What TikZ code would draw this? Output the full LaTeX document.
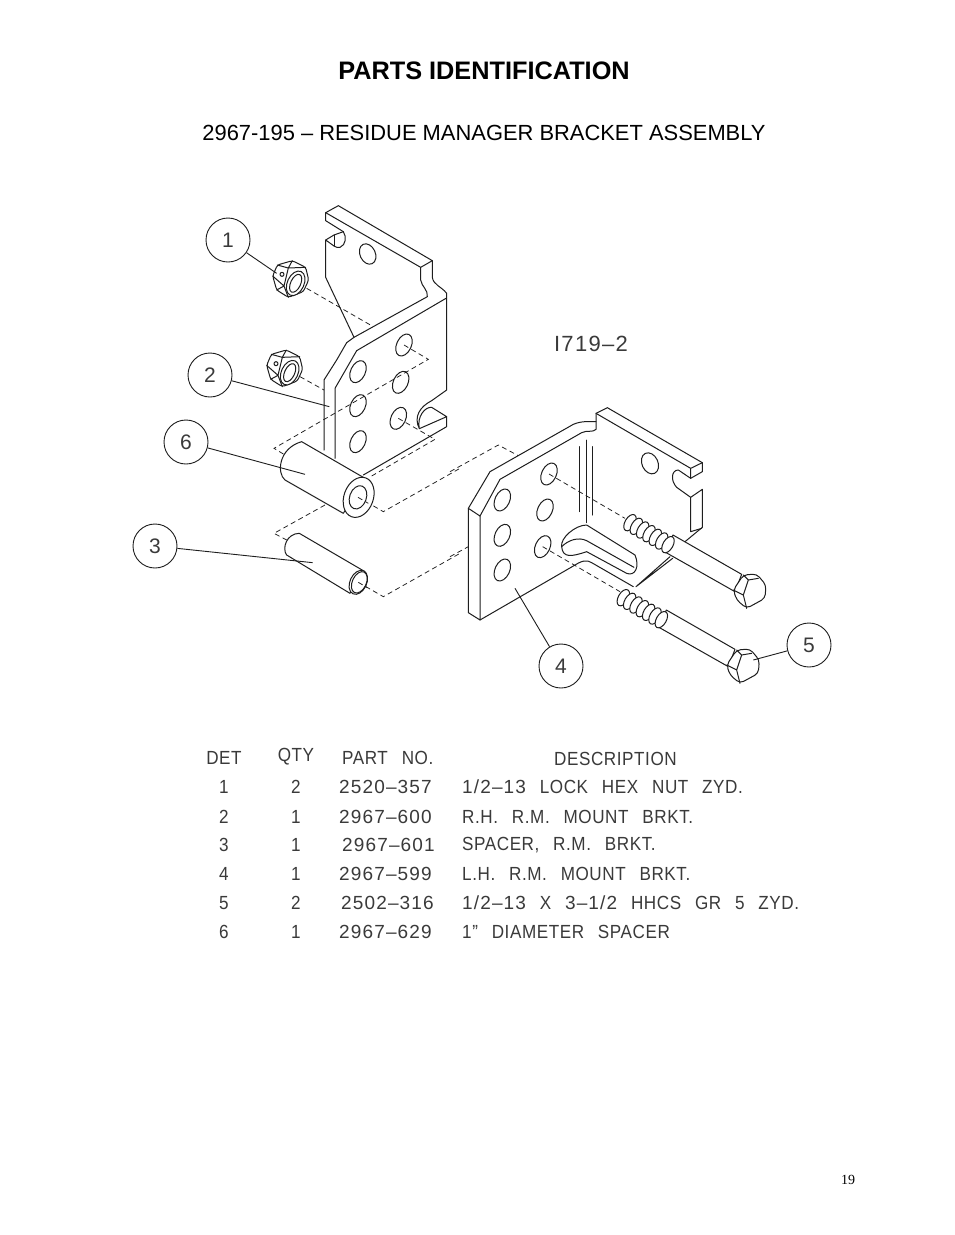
\documentclass[tikz,border=0pt]{standalone}
\usepackage{fontspec}
\setmainfont{Liberation Sans}
\newfontfamily\cadfont[FakeStretch=0.9,LetterSpace=3,WordSpace=2.6]{Liberation Sans}
\newfontfamily\numfont[LetterSpace=6,WordSpace=2.6]{Liberation Sans}
\newfontfamily\pagefont{Liberation Serif}
\definecolor{ink}{HTML}{1E1E1E}
\definecolor{cad}{HTML}{3A3A3A}
\tikzset{
  part/.style={draw=ink,line width=1pt,line join=round,line cap=round},
  hidden/.style={draw=ink,line width=0.75pt,dash pattern=on 5pt off 3.5pt},
  leader/.style={draw=ink,line width=0.9pt},
  balloon/.style={circle,draw=ink,line width=0.9pt,minimum size=44pt,inner sep=0pt,text=cad,font=\fontsize{21}{25}\selectfont},
  tbl/.style={anchor=west,inner sep=0pt,text=cad,font=\cadfont\fontsize{19}{23}\selectfont},
  tblnum/.style={anchor=west,inner sep=0pt,text=cad,font=\numfont\fontsize{19}{23}\selectfont},
  tblc/.style={anchor=center,inner sep=0pt,text=cad,font=\cadfont\fontsize{19}{23}\selectfont},
}
\newcommand{\hexnut}{%
  \draw[part,fill=white,rounded corners=2.5pt] (428,258)--(442,225)--(487,212)--(527,232)--(536,270)--(520,305)--(475,322)--(440,300)--cycle;
  \draw[part] (442,225)--(475,234)--(487,212) (475,234)--(527,232) (428,258)--(462,288)--(475,234) (462,288)--(440,300) (462,288)--(475,322);
  \draw[part,fill=white] (497,280) ellipse[x radius=25,y radius=39,rotate=-25];
  \draw[part] (497,280) ellipse[x radius=15,y radius=29,rotate=-25];
  \draw[part] (456,253) circle[radius=6];
}
\newcommand{\boltshape}{%
  \draw[part,fill=white] (669,435)--(875,553)--(855,605)--(645,486)--cycle;
  \foreach \i in {0,...,6}{
    \draw[part,fill=white] ({540+\i*19},{398+\i*11}) ellipse[x radius=15,y radius=27,rotate=-30];
  }
  \draw[part,fill=white,rounded corners=4pt] (850,600)--(880,555)--(920,552)--(948,585)--(945,625)--(890,655)--(860,630)--cycle;
  \draw[part] (880,555)--(895,570)--(925,565) (895,570)--(880,615)--(850,600) (880,615)--(890,655);
}
\newcommand{\holeat}[1]{\draw[part] #1 ellipse[x radius=22,y radius=35,rotate=-25];}
\begin{document}
\begin{tikzpicture}[x=1pt,y=-1pt]
\path[use as bounding box,fill=white] (0,0) rectangle (954,1235);

\node[inner sep=0pt,font=\bfseries\fontsize{25.3}{30}\selectfont] (title) at (484,71) {PARTS IDENTIFICATION};
\node[inner sep=0pt,font=\fontsize{21.9}{26}\selectfont] (subtitle) at (484,133) {2967-195 – RESIDUE MANAGER BRACKET ASSEMBLY};
\node[inner sep=0pt,font=\pagefont\fontsize{14}{17}\selectfont] (pageno) at (848,1180) {19};
\node[inner sep=0pt,text=cad,font=\numfont\fontsize{22}{26}\selectfont] (drawno) at (591,344) {I719–2};

% ---------- left side: frame of zooms 1 and 2
\begin{scope}[shift={(130,190)},scale=0.33333]
  % bracket 2
  \draw[part] (587,68)--(625,47)--(907,212)--(872,232)--cycle;
  \draw[part] (587,68)--(587,92)--(640,125) .. controls (650,140) and (648,165) .. (630,172) .. controls (622,173) and (618,172) .. (612,168)--(587,150)--(587,262)--(672,442);
  \draw[part] (587,150)--(612,135)--(640,125);
  \draw[part] (612,135)--(612,168);
  \draw[part] (907,212)--(907,262) .. controls (910,285) and (935,290) .. (950,310)--(950,600)--(905,632);
  \draw[part] (872,232)--(872,270) .. controls (875,290) and (895,300) .. (892,320)--(672,442)--(650,458)--(620,510)--(582,570)--(582,780);
  \draw[part] (948,325)--(680,482)--(615,595)--(615,805);
  \draw[part] (905,632) .. controls (870,650) and (850,680) .. (868,716)--(950,680)--(905,652) .. controls (885,650) and (860,680) .. (868,716);
  \draw[part] (950,680)--(950,710)--(700,855);
  \foreach \c in {(684,545),(812,577),(684,647),(822,465),(805,685),(684,755)}{
    \holeat{\c}
  }
  \draw[part] (713,192) ellipse[x radius=23,y radius=32,rotate=25];
  % hidden lines
  \coordinate (a1) at (895,508);
  \coordinate (a2) at (432,775);
  \draw[hidden] (822,465)--(a1)--(a2)--(465,795);
  \draw[hidden] (805,685)--(915,748)--(725,858);
  \draw[hidden] (530,295)--(730,410);
  \draw[hidden] (510,560)--(582,600);
  \draw[hidden] (686,922)--(760,965)--(990,835);
  \draw[hidden] (585,945)--(432,1030)--(470,1050);
  \draw[hidden] (685,1177)--(760,1220)--(990,1090);
  % nuts
  \hexnut
  \begin{scope}[shift={(-18,268)}]\hexnut\end{scope}
  % spacer 6
  \draw[part,fill=white] (515,755)--(705,865)--(640,970)--(465,870) .. controls (440,850) and (445,775) .. (515,755);
  \draw[part,fill=white] (686,922) ellipse[x radius=44,y radius=62,rotate=-20];
  \draw[part] (684,922) ellipse[x radius=25,y radius=36,rotate=-20];
  \draw[hidden] (684,922)--(715,940);
  % spacer 3
  \draw[part,fill=white] (508,1030)--(705,1145)--(660,1210)--(470,1095) .. controls (455,1075) and (470,1030) .. (508,1030);
  \draw[part,fill=white] (685,1177) ellipse[x radius=25,y radius=38,rotate=-25];
  \draw[part] (688,1177) ellipse[x radius=21,y radius=34,rotate=-25];
  \draw[hidden] (685,1177)--(712,1193);
  % leader ends
  \coordinate (t1) at (440,250);
  \coordinate (t2) at (598,650);
  \coordinate (t6) at (525,853);
  \coordinate (t3) at (548,1118);
\end{scope}

% ---------- right side: frame of zoom 3
\begin{scope}[shift={(450,390)},scale=0.33333]
  \draw[hidden] (0,245)--(145,165)--(205,197);
  \draw[hidden] (0,500)--(55,470);
  % bracket 4
  \draw[part] (55,355)--(55,668)--(90,690)--(90,378)--cycle;
  \draw[part] (90,690)--(370,528) .. controls (395,512) and (410,508) .. (425,518)--(550,590);
  \draw[part] (55,355)--(120,245)--(370,103) .. controls (395,92) and (420,95) .. (438,95)--(438,70)--(472,53)--(757,218)--(757,245)--(722,265);
  \draw[part] (90,378)--(150,268)--(395,128) .. controls (410,120) and (430,128) .. (438,118)--(438,95);
  \draw[part] (438,70)--(722,235)--(757,218);
  \draw[part] (722,235)--(722,265)--(685,240) .. controls (665,240) and (660,270) .. (680,292)--(722,322)--(722,425)--(755,415);
  \draw[part] (722,322)--(757,298)--(757,412)--(705,455);
  \draw[part] (660,500)--(558,590) (668,505)--(558,590);
  \draw[part] (388,170)--(388,365) (410,150)--(410,398) (427,170)--(427,375);
  \draw[part,fill=white] (410,405) .. controls (375,405) and (330,445) .. (335,470) .. controls (338,505) and (365,500) .. (410,485)--(530,550) .. controls (555,560) and (570,530) .. (555,495)--cycle;
  \draw[part] (335,470) .. controls (355,450) and (385,440) .. (410,452)--(552,532);
  \foreach \c in {(297,252),(285,360),(278,470),(157,330),(157,436),(157,540)}{
    \holeat{\c}
  }
  \draw[part] (600,220) ellipse[x radius=24,y radius=33,rotate=25];
  \draw[hidden] (297,252)--(525,385);
  \draw[hidden] (278,470)--(510,605);
  % bolts
  \boltshape
  \begin{scope}[shift={(-20,225)}]\boltshape\end{scope}
  \coordinate (t4) at (195,595);
  \coordinate (t5) at (910,810);
\end{scope}

% ---------- balloons and leaders
\node[balloon] (b1) at (228,240) {1};
\node[balloon] (b2) at (210,375) {2};
\node[balloon] (b6) at (186,442) {6};
\node[balloon] (b3) at (155,546) {3};
\node[balloon] (b4) at (561,666) {4};
\node[balloon] (b5) at (809,645) {5};
\draw[leader] (b1)--(t1);
\draw[leader] (b2)--(t2);
\draw[leader] (b6)--(t6);
\draw[leader] (b3)--(t3);
\draw[leader] (b4)--(t4);
\draw[leader] (b5)--(t5);

% ---------- parts list
\node[tblc] (hdet) at (224,758) {DET};
\node[tblc] (hqty) at (296,757) {QTY};
\node[tbl] (hpart) at (342,758) {PART NO.};
\node[tbl] (hdesc) at (554,759) {DESCRIPTION};

\node[tblc] (d1) at (224,787) {1};
\node[tblc] (q1) at (296,787) {2};
\node[tblnum] (p1) at (339,787) {2520–357};
\node[tbl] (t1x) at (462,787) {{\numfont 1/2–13} LOCK HEX NUT ZYD.};

\node[tblc] (d2) at (224,817) {2};
\node[tblc] (q2) at (296,817) {1};
\node[tblnum] (p2) at (339,817) {2967–600};
\node[tbl] (t2x) at (462,817) {R.H. R.M. MOUNT BRKT.};

\node[tblc] (d3) at (224,845) {3};
\node[tblc] (q3) at (296,845) {1};
\node[tblnum] (p3) at (342,845) {2967–601};
\node[tbl] (t3x) at (462,845) {SPACER, R.M. BRKT.};

\node[tblc] (d4) at (224,874) {4};
\node[tblc] (q4) at (296,874) {1};
\node[tblnum] (p4) at (339,874) {2967–599};
\node[tbl] (t4x) at (462,874) {L.H. R.M. MOUNT BRKT.};

\node[tblc] (d5) at (224,903) {5};
\node[tblc] (q5) at (296,903) {2};
\node[tblnum] (p5) at (341,903) {2502–316};
\node[tbl] (t5x) at (462,903) {{\numfont 1/2–13} X {\numfont 3–1/2} HHCS GR 5 ZYD.};

\node[tblc] (d6) at (224,932) {6};
\node[tblc] (q6) at (296,932) {1};
\node[tblnum] (p6) at (339,932) {2967–629};
\node[tbl] (t6x) at (462,932) {1” DIAMETER SPACER};
\end{tikzpicture}
\end{document}
